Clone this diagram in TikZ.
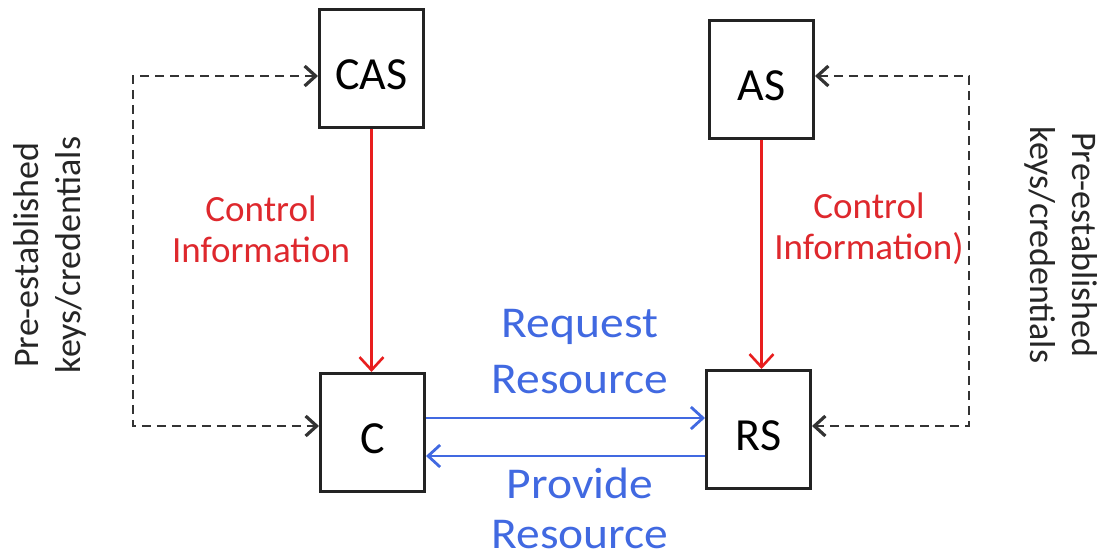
\documentclass[tikz,border=0pt]{standalone}
\usepackage{fontspec}
\setmainfont{Carlito}
\newfontfamily\widefont[FakeStretch=1.08]{Carlito}
\usetikzlibrary{arrows.meta}
\definecolor{ctrlred}{RGB}{222,40,45}
\definecolor{linered}{RGB}{232,30,30}
\definecolor{resblue}{RGB}{65,105,225}
\definecolor{boxgray}{RGB}{35,35,35}
\tikzset{
  entity/.style={draw=boxgray, line width=3pt, fill=white, minimum width=104pt, minimum height=118pt,
    font=\fontsize{46}{52}\selectfont, text height=42pt, text depth=0pt, inner sep=0pt},
  keyline/.style={line width=2.8pt, draw=black!80, dash pattern=on 9pt off 6pt,
    {Straight Barb[length=11pt, width=20pt, line width=3.2pt]}-{Straight Barb[length=11pt, width=20pt, line width=3.2pt]}},
  ctrlarrow/.style={line width=2.5pt, draw=linered, -{Straight Barb[length=13pt, width=24pt, line width=2.6pt]}},
  resarrow/.style={line width=2.6pt, draw=resblue, -{Straight Barb[length=12pt, width=22pt, line width=2.8pt]}},
  ctrltext/.style={text=ctrlred, align=center, font=\fontsize{37}{41}\selectfont, inner sep=0pt},
  restext/.style={text=resblue, align=center, inner sep=0pt},
  keytext/.style={text=black!85, align=center, font=\fontsize{36}{42}\selectfont, inner sep=0pt},
}
\begin{document}
\begin{tikzpicture}[x=1pt, y=-1pt]
\useasboundingbox (0,0) rectangle (1111,559);
% boxes
\node[entity] (CAS) at (371.5,69) {CAS};
\node[entity] (AS) at (761.5,79.5) {AS};
\node[entity] (C) at (372.5,432.5) {C};
\node[entity] (RS) at (758.5,429.5) {RS};
% corners of dashed connectors
\coordinate (lt) at (133,76);
\coordinate (lb) at (133,426);
\coordinate (rt) at (969,76);
\coordinate (rb) at (969,426);
% dashed key connectors
\draw[keyline] ([yshift=-7pt]CAS.west) -- (lt) -- (lb) -- ([yshift=6.5pt]C.west);
\draw[keyline] ([yshift=3.5pt]AS.east) -- (rt) -- (rb) -- ([yshift=3.5pt]RS.east);
% control arrows
\draw[ctrlarrow] (CAS.south) -- (CAS.south |- C.north);
\draw[ctrlarrow] (AS.south) -- (AS.south |- RS.north);
% resource arrows
\draw[resarrow] ([yshift=14.5pt]C.east) -- ([yshift=11.5pt]RS.west);
\draw[resarrow] ([yshift=-26.5pt]RS.west) -- ([yshift=-23.5pt]C.east);
% labels
\node[ctrltext] (ctlL) at (261,229) {Control\\Information};
\node[ctrltext] (ctlR) at (869,229) {Control\\Information)};
\node[restext, font=\widefont\fontsize{44}{56}\selectfont] (req) at (580,352) {Request\\Resource};
\node[restext, font=\widefont\fontsize{44}{50}\selectfont] (prov) at (580,508) {Provide\\Resource};
\node[keytext, rotate=90] (keyL) at (50,255) {Pre-established\\keys/credentials};
\node[keytext, rotate=-90] (keyR) at (1061,245) {Pre-established\\keys/credentials};
\end{tikzpicture}
\end{document}
